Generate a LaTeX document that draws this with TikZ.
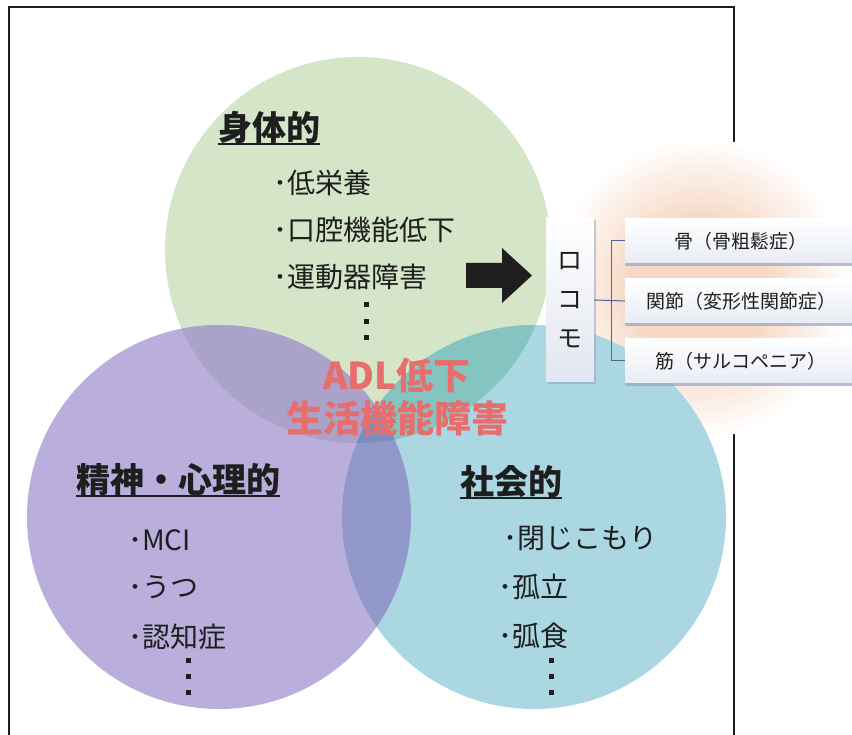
\documentclass[tikz,border=0pt]{standalone}
\usepackage{fontspec}
\setmainfont{Noto Sans CJK JP}
\usetikzlibrary{shadows}
\definecolor{gC}{RGB}{213,229,199}
\definecolor{pC}{RGB}{185,174,220}
\definecolor{cC}{RGB}{170,215,226}
\definecolor{gpC}{RGB}{170,162,200}
\definecolor{pcC}{RGB}{146,152,202}
\definecolor{gcC}{RGB}{132,197,193}
\definecolor{tripC}{RGB}{125,140,186}
\definecolor{glowc}{RGB}{246,216,196}
\definecolor{txtc}{RGB}{30,30,30}
\definecolor{adlc}{RGB}{232,110,110}
\definecolor{brkc}{RGB}{80,100,150}
\definecolor{shc}{RGB}{150,165,195}
\definecolor{boxbot}{RGB}{232,236,244}
\definecolor{locobot}{RGB}{226,230,240}
\begin{document}
\begin{tikzpicture}[x=1pt,y=-1pt,
  head/.style={font=\fontsize{34}{40}\selectfont\bfseries, text=txtc, inner sep=0pt, anchor=west},
  item/.style={font=\fontsize{28}{34}\selectfont, text=txtc, inner sep=0pt, anchor=west},
  ul/.style={line width=2pt, draw=txtc},
  adl/.style={font=\fontsize{37}{44}\selectfont\bfseries, text=adlc, inner sep=0pt},
  dotsq/.style={fill=txtc},
  sidebox/.style={minimum width=232pt, minimum height=44pt, inner sep=0pt,
    top color=white, bottom color=boxbot,
    drop shadow={shadow xshift=0pt, shadow yshift=-3pt, fill=shc, opacity=0.7},
    font=\fontsize{19}{22}\selectfont, text=txtc},
  lococ/.style={minimum width=48pt, minimum height=164pt, inner sep=0pt,
    top color=white, bottom color=locobot,
    drop shadow={shadow xshift=2pt, shadow yshift=-2pt, fill=shc, opacity=0.6},
    font=\fontsize{25}{39}\selectfont, text=txtc, align=center},
  brk/.style={draw=brkc, line width=1pt}]
\useasboundingbox (0,0) rectangle (852,735);
\fill[white] (0,0) rectangle (852,735);
% frame
\draw[line width=2.5pt, draw=txtc] (9,740) -- (9,7) -- (734,7) -- (734,740);
% glow (opaque, white at rim to peach at centre)
\foreach \i in {0,...,24}{
  \pgfmathsetmacro{\rr}{150-\i*4}
  \pgfmathsetmacro{\pp}{min(100,\i*5)}
  \fill[glowc!\pp!white] (700,288) circle (\rr pt);
}
% circles
\fill[gC] (358,250) circle (193pt);
\fill[pC] (219,517) circle (192pt);
\fill[cC] (534,517) circle (192pt);
\begin{scope}
  \clip (358,250) circle (193pt);
  \fill[gpC] (219,517) circle (192pt);
  \fill[gcC] (534,517) circle (192pt);
\end{scope}
\begin{scope}
  \clip (219,517) circle (192pt);
  \fill[pcC] (534,517) circle (192pt);
  \clip (358,250) circle (193pt);
  \fill[tripC] (534,517) circle (192pt);
\end{scope}
% arrow
\fill[txtc] (466,263) -- (502,263) -- (502,248) -- (532,275.5) -- (502,303) -- (502,288) -- (466,288) -- cycle;
% green
\node[head] (h1) at (218,128) {身体的};
\draw[ul] (h1.south west) -- (h1.south east);
\node[item] (g1) at (273,183) {･低栄養};
\node[item] (g2) at (273,230) {･口腔機能低下};
\node[item] (g3) at (273,277) {･運動器障害};
\foreach \yy in {305,322,338} \fill[dotsq] (363.5,\yy-2.5) rectangle (368.5,\yy+2.5);
% purple
\node[head] (h2) at (76,480) {精神・心理的};
\draw[ul] (h2.south west) -- (h2.south east);
\node[item] (p1) at (128,540) {･MCI};
\node[item] (p2) at (128,587) {･うつ};
\node[item] (p3) at (128,637) {･認知症};
\foreach \yy in {660,676,692} \fill[dotsq] (185.5,\yy-2.5) rectangle (190.5,\yy+2.5);
% cyan
\node[head] (h3) at (460,482) {社会的};
\draw[ul] (h3.south west) -- (h3.south east);
\node[item] (c1) at (503,538) {･閉じこもり};
\node[item] (c2) at (498,587) {･孤立};
\node[item] (c3) at (498,636) {･弧食};
\foreach \yy in {660,676,692} \fill[dotsq] (548.5,\yy-2.5) rectangle (553.5,\yy+2.5);
% center text
\node[adl] (adl1) at (397,375) {ADL低下};
\node[adl] (adl2) at (397,418) {生活機能障害};
% locomo
\node[lococ] (loco) at (570,300) {ロ\\コ\\モ};
\node[sidebox] (b1) at (741,241) {骨（骨粗鬆症）};
\node[sidebox] (b2) at (741,301) {関節（変形性関節症）};
\node[sidebox] (b3) at (741,361) {筋（サルコペニア）};
\draw[brk] (loco.east) -- (b2.west);
\draw[brk] (b1.west) -- ++(-13,0) |- (b3.west);
\end{tikzpicture}
\end{document}
